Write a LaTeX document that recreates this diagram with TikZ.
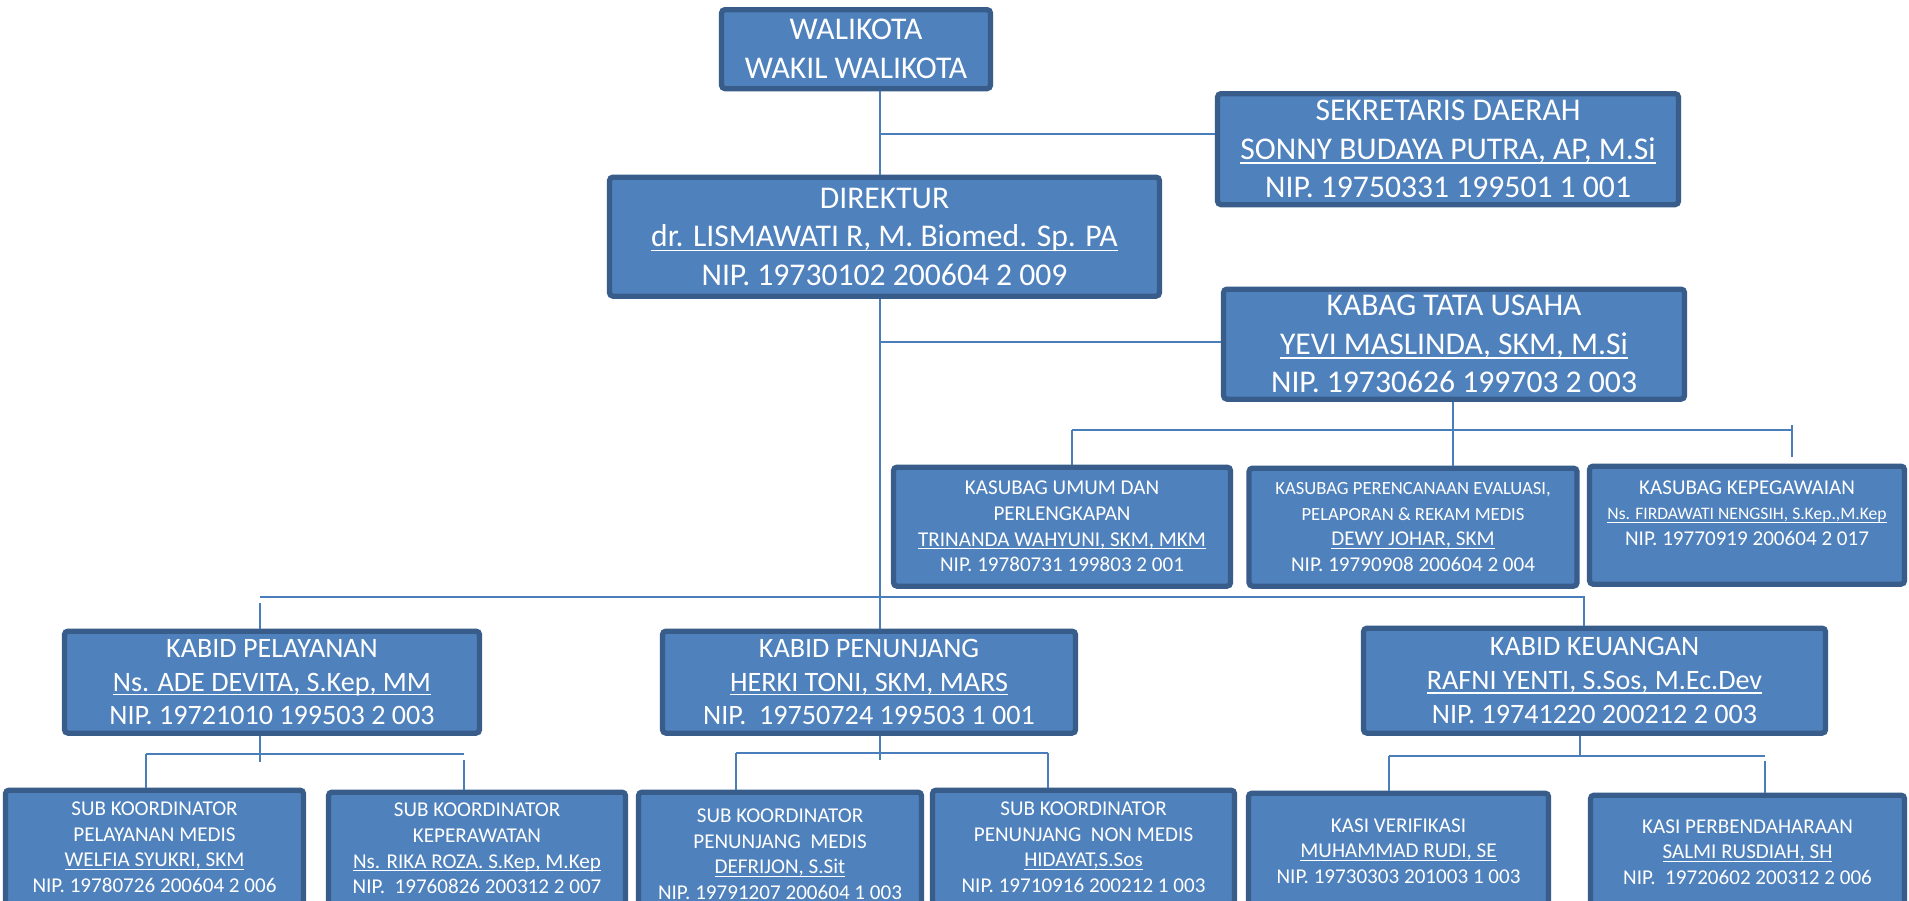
\documentclass[tikz,border=0pt]{standalone}
\usepackage{fontspec}
\setmainfont{Carlito}

\definecolor{boxfill}{HTML}{4F81BD}
\definecolor{boxline}{HTML}{385D8A}
\definecolor{linkcol}{HTML}{4A7EBB}

\newcommand{\toptxt}{\fontsize{9}{11}\selectfont}
\newcommand{\midtxt}{\fontsize{8}{9.6}\selectfont}
\newcommand{\lowtxt}{\fontsize{6}{7.3}\selectfont}
\newcommand{\tinytxt}{\fontsize{5.3}{6.3}\selectfont}
\newcommand{\tinyname}{\fontsize{5}{6}\selectfont}
% garis bawah nama
\newcommand{\nameline}[1]{\setbox0\hbox{#1}\rlap{\rule[-0.15em]{\wd0}{0.06em}}\box0}

\begin{document}
\begin{tikzpicture}[
  orgbox/.style={draw=boxline, fill=boxfill, line width=1.5pt, rounded corners=1pt, text=white, align=center, inner sep=0pt, anchor=north},
  topbox/.style={orgbox, font=\toptxt},
  kabidbox/.style={orgbox, font=\midtxt},
  subbox/.style={orgbox, font=\lowtxt},
  link/.style={draw=linkcol, line width=0.6pt}
]
\clip (0,0) rectangle (19.09,-9.00);
\fill[white] (0,0) rectangle (19.09,-9.00);

% pimpinan
\node[topbox, minimum width=2.69cm, minimum height=0.79cm] (wali) at (8.56,-0.07) {WALIKOTA\\WAKIL WALIKOTA};
\node[topbox, minimum width=4.61cm, minimum height=1.11cm] (sekda) at (14.48,-0.91) {SEKRETARIS DAERAH\\\nameline{SONNY BUDAYA PUTRA, AP, M.Si}\\NIP. 19750331 199501 1 001};
\node[topbox, minimum width=5.50cm, minimum height=1.19cm] (dir) at (8.845,-1.745) {DIREKTUR\\\nameline{dr. LISMAWATI R, M. Biomed. Sp. PA}\\NIP. 19730102 200604 2 009};
\node[topbox, minimum width=4.61cm, minimum height=1.10cm] (kabag) at (14.54,-2.865) {KABAG TATA USAHA\\\nameline{YEVI MASLINDA, SKM, M.Si}\\NIP. 19730626 199703 2 003};

% kasubag
\node[subbox, minimum width=3.37cm, minimum height=1.19cm] (umum) at (10.62,-4.645) {KASUBAG UMUM DAN\\PERLENGKAPAN\\\nameline{TRINANDA WAHYUNI, SKM, MKM}\\NIP. 19780731 199803 2 001};
\node[subbox, minimum width=3.28cm, minimum height=1.18cm] (perenc) at (14.13,-4.655) {{\tinytxt KASUBAG PERENCANAAN EVALUASI,}\\{\tinytxt PELAPORAN \& REKAM MEDIS}\\\nameline{DEWY JOHAR, SKM}\\NIP. 19790908 200604 2 004};
\node[subbox, minimum width=3.15cm, minimum height=1.18cm, text depth=0.24cm] (kepeg) at (17.47,-4.635) {KASUBAG KEPEGAWAIAN\\{\tinyname\nameline{Ns. FIRDAWATI NENGSIH, S.Kep.,M.Kep}}\\NIP. 19770919 200604 2 017};

% kabid
\node[kabidbox, minimum width=4.15cm, minimum height=1.02cm] (kpel) at (2.72,-6.285) {KABID PELAYANAN\\\nameline{Ns. ADE DEVITA, S.Kep, MM}\\NIP. 19721010 199503 2 003};
\node[kabidbox, minimum width=4.13cm, minimum height=1.02cm] (kpen) at (8.69,-6.285) {KABID PENUNJANG\\\nameline{HERKI TONI, SKM, MARS}\\NIP.\ \ 19750724 199503 1 001};
\node[kabidbox, minimum width=4.62cm, minimum height=1.05cm] (kkeu) at (15.945,-6.255) {KABID KEUANGAN\\\nameline{RAFNI YENTI, S.Sos, M.Ec.Dev}\\NIP. 19741220 200212 2 003};

% sub koordinator / kasi
\node[subbox, minimum width=2.98cm, minimum height=1.14cm] (smed) at (1.545,-7.875) {SUB KOORDINATOR\\PELAYANAN MEDIS\\\nameline{WELFIA SYUKRI, SKM}\\NIP. 19780726 200604 2 006};
\node[subbox, minimum width=2.97cm, minimum height=1.13cm] (skep) at (4.77,-7.895) {SUB KOORDINATOR\\KEPERAWATAN\\\nameline{Ns. RIKA ROZA. S.Kep, M.Kep}\\NIP.\ \ 19760826 200312 2 007};
\node[subbox, minimum width=2.83cm, minimum height=1.24cm] (spmed) at (7.80,-7.895) {SUB KOORDINATOR\\PENUNJANG\ \ MEDIS\\\nameline{DEFRIJON, S.Sit}\\NIP. 19791207 200604 1 003};
\node[subbox, minimum width=3.02cm, minimum height=1.14cm] (spnon) at (10.835,-7.875) {SUB KOORDINATOR\\PENUNJANG\ \ NON MEDIS\\\nameline{HIDAYAT,S.Sos}\\NIP. 19710916 200212 1 003};
\node[subbox, minimum width=3.00cm, minimum height=1.16cm] (kver) at (13.985,-7.905) {KASI VERIFIKASI\\\nameline{MUHAMMAD RUDI, SE}\\NIP. 19730303 201003 1 003};
\node[subbox, minimum width=3.14cm, minimum height=1.14cm] (kper) at (17.475,-7.925) {KASI PERBENDAHARAAN\\\nameline{SALMI RUSDIAH, SH}\\NIP.\ \ 19720602 200312 2 006};

% garis
\coordinate (t1) at (8.80,-1.34);
\coordinate (t2) at (8.80,-3.42);
\draw[link] (wali.south -| t1) -- (dir.north -| t1);
\draw[link] (t1) -- (t1 -| sekda.west);
\draw[link] (dir.south -| t1) -- (kpen.north -| t1);
\draw[link] (t2) -- (t2 -| kabag.west);

\coordinate (tu) at (14.53,-4.30);
\coordinate (u) at (10.72,-4.30);
\coordinate (k) at (17.92,-4.30);
\coordinate (k1) at (17.92,-4.25);
\coordinate (k2) at (17.92,-4.57);
\draw[link] (kabag.south -| tu) -- (perenc.north -| tu);
\draw[link] (u) -- (k);
\draw[link] (u) -- (u |- umum.north);
\draw[link] (k1) -- (k2);

\coordinate (b1) at (2.60,-5.97);
\coordinate (b2) at (15.84,-5.97);
\draw[link] (b1) -- (b2) -- (b2 |- kkeu.north);
\draw[link] (b1) ++(0,-0.06) -- (b1 |- kpel.north);

\coordinate (p1) at (1.46,-7.54);
\coordinate (p2) at (4.64,-7.54);
\draw[link] (kpel.south -| b1) -- ++(0,-0.26);
\draw[link] (p1) -- (p2);
\draw[link] (p1) -- (p1 |- smed.north);
\draw[link] (p2) ++(0,-0.06) -- (p2 |- skep.north);

\coordinate (q1) at (7.36,-7.53);
\coordinate (q2) at (10.48,-7.53);
\draw[link] (kpen.south -| t1) -- ++(0,-0.24);
\draw[link] (q1) -- (q2);
\draw[link] (q1) -- (q1 |- spmed.north);
\draw[link] (q2) -- (q2 |- spnon.north);

\coordinate (r1) at (13.89,-7.56);
\coordinate (r2) at (17.65,-7.56);
\draw[link] (kkeu.south -| 15.80,0) -- ++(0,-0.21);
\draw[link] (r1) -- (r2);
\draw[link] (r1) -- (r1 |- kver.north);
\draw[link] (r2) ++(0,-0.05) -- (r2 |- kper.north);

\end{tikzpicture}
\end{document}
